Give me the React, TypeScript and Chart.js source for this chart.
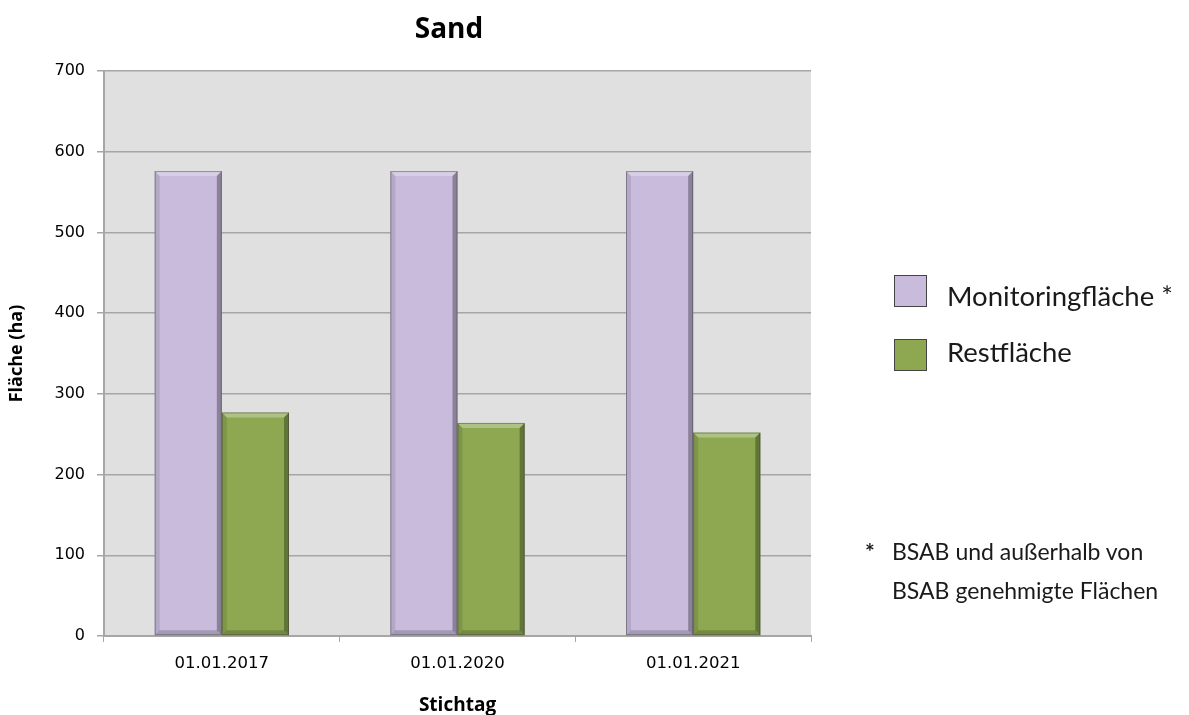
import React, { useEffect, useRef } from "react";
import { Chart, registerables } from "chart.js";

Chart.register(...registerables);

const categories = ["01.01.2017", "01.01.2020", "01.01.2021"];
const monitoringValues = [576, 576, 576];
const restValues = [277, 264, 252];
const seriesNames = ["Monitoringfläche *", "Restfläche"];
const chartTitle = "Sand";
const yTitle = "Fläche (ha)";
const xTitle = "Stichtag";
const footnoteLines = ["BSAB und außerhalb von", "BSAB genehmigte Flächen"];

const PURPLE = "#c8bbdc";
const GREEN = "#8da851";

const bgPlugin = {
  id: "plotBg",
  beforeDraw(chart: any) {
    const { ctx, chartArea } = chart;
    ctx.save();
    ctx.fillStyle = "#e0e0e0";
    ctx.fillRect(chartArea.left, chartArea.top, chartArea.right - chartArea.left, chartArea.bottom - chartArea.top);
    ctx.restore();
  },
};

const bevelPlugin = {
  id: "bevel",
  afterDatasetsDraw(chart: any) {
    const ctx = chart.ctx;
    ctx.save();
    chart.data.datasets.forEach((_: any, di: number) => {
      const meta = chart.getDatasetMeta(di);
      meta.data.forEach((bar: any) => {
        const w = bar.width;
        const l = bar.x - w / 2;
        const r = bar.x + w / 2;
        const t = bar.y;
        const b = bar.base;
        const e = 5;
        ctx.fillStyle = "rgba(255,255,255,0.3)";
        ctx.beginPath();
        ctx.moveTo(l, t);
        ctx.lineTo(r, t);
        ctx.lineTo(r - e, t + e);
        ctx.lineTo(l + e, t + e);
        ctx.closePath();
        ctx.fill();
        ctx.fillStyle = "rgba(0,0,0,0.3)";
        ctx.beginPath();
        ctx.moveTo(r, t);
        ctx.lineTo(r, b);
        ctx.lineTo(r - e, b - e);
        ctx.lineTo(r - e, t + e);
        ctx.closePath();
        ctx.fill();
        ctx.fillStyle = "rgba(0,0,0,0.1)";
        ctx.beginPath();
        ctx.moveTo(l, t);
        ctx.lineTo(l + e, t + e);
        ctx.lineTo(l + e, b - e);
        ctx.lineTo(l, b);
        ctx.closePath();
        ctx.fill();
        ctx.fillStyle = "rgba(0,0,0,0.18)";
        ctx.beginPath();
        ctx.moveTo(l, b);
        ctx.lineTo(r, b);
        ctx.lineTo(r - e, b - e);
        ctx.lineTo(l + e, b - e);
        ctx.closePath();
        ctx.fill();
        ctx.strokeStyle = "rgba(60,60,60,0.45)";
        ctx.lineWidth = 1;
        ctx.strokeRect(l + 0.5, t + 0.5, w - 1, b - t - 1);
      });
    });
    ctx.restore();
  },
};

export default function App() {
  const canvasRef = useRef<HTMLCanvasElement | null>(null);

  useEffect(() => {
    if (!canvasRef.current) return;
    const chart = new Chart(canvasRef.current, {
      type: "bar",
      data: {
        labels: categories,
        datasets: [
          {
            label: seriesNames[0],
            data: monitoringValues,
            backgroundColor: PURPLE,
            borderWidth: 0,
          },
          {
            label: seriesNames[1],
            data: restValues,
            backgroundColor: GREEN,
            borderWidth: 0,
          },
        ],
      },
      options: {
        animation: false,
        responsive: false,
        maintainAspectRatio: false,
        layout: { padding: { left: 0, right: 378, top: 71, bottom: 0 } },
        datasets: {
          bar: { barPercentage: 1, categoryPercentage: 0.57 },
        },
        plugins: {
          legend: { display: false },
          tooltip: { enabled: false },
          title: { display: false },
        },
        scales: {
          x: {
            grid: {
              offset: true,
              drawOnChartArea: false,
              drawTicks: true,
              tickLength: 6,
              color: "#a6a6a6",
            },
            border: { color: "#a6a6a6", width: 2 },
            ticks: {
              color: "#000",
              font: { family: "DejaVu Sans", size: 16.5 },
              padding: 12,
            },
            title: {
              display: true,
              text: xTitle,
              color: "#000",
              font: { family: "Open Sans", size: 19, weight: "bold", lineHeight: 1 },
              padding: { top: 0, bottom: 0 },
            },
            afterFit(scale: any) {
              scale.height = 79;
            },
          },
          y: {
            min: 0,
            max: 700,
            ticks: {
              stepSize: 100,
              color: "#000",
              font: { family: "DejaVu Sans", size: 16 },
              padding: 12,
            },
            grid: {
              color: "#a6a6a6",
              lineWidth: 1.5,
              tickLength: 7,
            },
            border: { color: "#a6a6a6", width: 2 },
            title: {
              display: true,
              text: yTitle,
              color: "#000",
              font: { family: "Open Sans", size: 18, weight: "bold" },
              padding: { top: 6, bottom: 0 },
            },
            afterFit(scale: any) {
              scale.width = 104;
            },
          },
        },
      },
      plugins: [bgPlugin, bevelPlugin],
    });
    return () => chart.destroy();
  }, []);

  const legendText: React.CSSProperties = {
    fontFamily: "Lato, 'Noto Sans', sans-serif",
    fontSize: 27.5,
    lineHeight: 1,
    color: "#1a1a1a",
    position: "absolute",
    whiteSpace: "nowrap",
  };
  const swatch = (color: string, top: number): React.CSSProperties => ({
    position: "absolute",
    left: 894,
    top,
    width: 33,
    height: 32,
    background: color,
    border: "1.5px solid #444",
    boxSizing: "border-box",
  });
  const footText: React.CSSProperties = {
    fontFamily: "Lato, 'Noto Sans', sans-serif",
    fontSize: 23,
    lineHeight: 1,
    color: "#1a1a1a",
    position: "absolute",
    whiteSpace: "nowrap",
  };

  return (
    <div style={{ position: "fixed", left: 0, top: 0, width: 1189, height: 715, background: "#fff" }}>
      <canvas ref={canvasRef} width={1189} height={715} style={{ position: "absolute", left: 0, top: 0 }} />
      <div
        style={{
          position: "absolute",
          left: 349,
          width: 200,
          top: 13,
          textAlign: "center",
          fontFamily: "'Open Sans', sans-serif",
          fontWeight: "bold",
          fontSize: 28,
          lineHeight: 1,
          color: "#000",
        }}
      >
        {chartTitle}
      </div>
      <div style={swatch(PURPLE, 275)} />
      <div style={{ ...legendText, left: 947, top: 282 }}>{seriesNames[0]}</div>
      <div style={swatch(GREEN, 339)} />
      <div style={{ ...legendText, left: 947, top: 338 }}>{seriesNames[1]}</div>
      <div style={{ ...footText, left: 865, top: 540, fontWeight: "bold" }}>*</div>
      <div style={{ ...footText, left: 892, top: 540 }}>{footnoteLines[0]}</div>
      <div style={{ ...footText, left: 892, top: 579 }}>{footnoteLines[1]}</div>
    </div>
  );
}
